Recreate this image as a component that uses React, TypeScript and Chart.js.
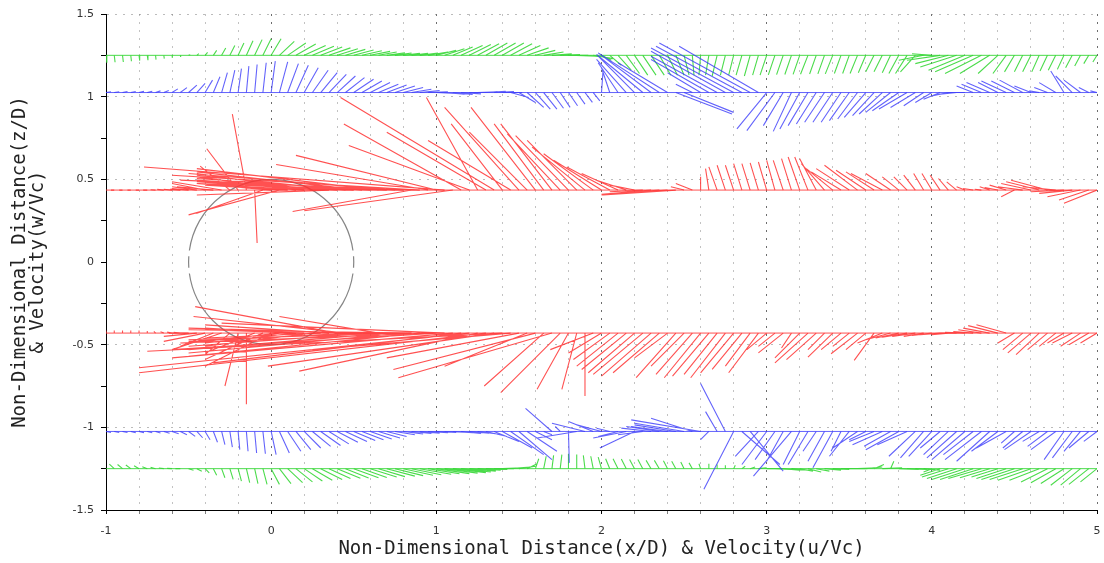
import React, { useEffect, useRef } from "react";
import { Chart, registerables } from "chart.js";

Chart.register(...registerables);

// Grid stations along x/D where velocity vectors are sampled
const gridX = [
  -1.0, -0.95, -0.9, -0.85, -0.8, -0.75, -0.7, -0.65, -0.6, -0.55,
  -0.5, -0.45, -0.4, -0.35, -0.3, -0.25, -0.2, -0.15, -0.1, -0.05,
  0.0, 0.05, 0.1, 0.15, 0.2, 0.25, 0.3, 0.35, 0.4, 0.45,
  0.5, 0.55, 0.6, 0.65, 0.7, 0.75, 0.8, 0.85, 0.9, 0.95,
  1.0, 1.05, 1.1, 1.15, 1.2, 1.25, 1.3, 1.35, 1.4, 1.45,
  1.5, 1.55, 1.6, 1.65, 1.7, 1.75, 1.8, 1.85, 1.9, 1.95,
  2.0, 2.05, 2.1, 2.15, 2.2, 2.25, 2.3, 2.35, 2.4, 2.45,
  2.5, 2.55, 2.6, 2.65, 2.7, 2.75, 2.8, 2.85, 2.9, 2.95,
  3.0, 3.05, 3.1, 3.15, 3.2, 3.25, 3.3, 3.35, 3.4, 3.45,
  3.5, 3.55, 3.6, 3.65, 3.7, 3.75, 3.8, 3.85, 3.9, 3.95,
  4.0, 4.05, 4.1, 4.15, 4.2, 4.25, 4.3, 4.35, 4.4, 4.45,
  4.5, 4.55, 4.6, 4.65, 4.7, 4.75, 4.8, 4.85, 4.9, 4.95,
  5.0,
];

// Measurement levels z/D
const greenTopLevel = 1.25;
const blueTopLevel = 1.025;
const redTopLevel = 0.435;
const redBottomLevel = -0.43;
const blueBottomLevel = -1.025;
const greenBottomLevel = -1.25;

// Cylinder
const cylinderRadius = 0.5;

// Upper green level: u/Vc, w/Vc
const greenTopU = [
  0.005, 0.005, 0.005, 0.004, 0.004, 0.004, 0.003, 0.003, 0.002, 0.002,
  0.01, 0.012, 0.015, 0.02, 0.025, 0.03, 0.035, 0.04, 0.045, 0.05,
  0.06, 0.09, 0.11, 0.12, 0.13, 0.13, 0.13, 0.13, 0.125, 0.12,
  0.12, 0.12, 0.12, 0.11, 0.11, 0.1, 0.1, 0.1, 0.11, 0.12,
  0.12, 0.12, 0.12, 0.13, 0.13, 0.13, 0.13, 0.13, 0.13, 0.13,
  0.13, 0.13, 0.12, 0.12, 0.12, 0.12, 0.12, 0.12, 0.12, 0.12,
  0.06, 0.07, 0.08, 0.08, 0.08, 0.08, 0.08, 0.07, 0.06, 0.05,
  0.03, 0.01, -0.01, -0.02, -0.03, -0.03, -0.03, -0.035, -0.035, -0.035,
  -0.04, -0.04, -0.04, -0.04, -0.04, -0.045, -0.04, -0.04, -0.045, -0.04,
  -0.04, -0.045, -0.045, -0.05, -0.05, -0.05, -0.06, -0.07, -0.09, -0.15,
  -0.12, -0.2, -0.2, -0.22, -0.22, -0.23, -0.22, -0.18, -0.12, -0.08,
  -0.06, -0.05, -0.05, -0.045, -0.045, -0.045, -0.04, -0.04, -0.035, -0.03,
  -0.025,
];
const greenTopW = [
  -0.045, -0.042, -0.04, -0.036, -0.032, -0.03, -0.026, -0.02, -0.015, -0.01,
  0.004, 0.01, 0.018, 0.03, 0.045, 0.06, 0.075, 0.088, 0.095, 0.1,
  0.1, 0.085, 0.075, 0.068, 0.06, 0.055, 0.05, 0.045, 0.04, 0.036,
  0.032, 0.028, 0.024, 0.02, 0.016, 0.014, 0.012, 0.012, 0.014, 0.02,
  0.03, 0.04, 0.05, 0.06, 0.065, 0.07, 0.075, 0.075, 0.075, 0.07,
  0.06, 0.045, 0.03, 0.02, 0.01, 0.005, 0.0, -0.005, -0.01, -0.02,
  -0.03, -0.06, -0.09, -0.11, -0.12, -0.12, -0.12, -0.12, -0.12, -0.12,
  -0.12, -0.12, -0.12, -0.12, -0.125, -0.12, -0.12, -0.12, -0.125, -0.12,
  -0.12, -0.118, -0.117, -0.116, -0.115, -0.114, -0.113, -0.112, -0.112, -0.11,
  -0.11, -0.11, -0.105, -0.1, -0.1, -0.105, -0.11, -0.11, -0.1, -0.03,
  0.01, -0.03, -0.05, -0.07, -0.09, -0.1, -0.11, -0.11, -0.11, -0.11,
  -0.1, -0.1, -0.1, -0.1, -0.095, -0.09, -0.085, -0.075, -0.065, -0.05,
  -0.04,
];

// Upper blue level
const blueTopU = [
  0.03, 0.03, 0.03, 0.03, 0.03, 0.03, 0.03, 0.03, 0.035, 0.04,
  0.05, 0.05, 0.045, 0.04, 0.035, 0.03, 0.02, 0.015, 0.015, 0.02,
  0.025, 0.05, 0.065, 0.075, 0.085, 0.095, 0.1, 0.105, 0.11, 0.115,
  0.12, 0.12, 0.12, 0.12, 0.12, 0.12, 0.12, 0.12, 0.12, 0.12,
  0.12, 0.12, 0.12, 0.12, 0.12, 0.12, 0.12, 0.12, 0.12, 0.11,
  0.1, 0.1, 0.09, 0.08, 0.07, 0.06, 0.055, 0.05, 0.045, 0.04,
  0.01, -0.05, -0.12, -0.18, -0.22, -0.28, -0.32, -0.37, -0.3, 0.34,
  0.3, -0.1, -0.2, -0.35, -0.4, -0.45, -0.5, -0.52, -0.55, -0.48,
  -0.18, -0.17, -0.12, -0.11, -0.12, -0.12, -0.12, -0.12, -0.12, -0.12,
  -0.12, -0.12, -0.13, -0.13, -0.14, -0.15, -0.16, -0.17, -0.15, -0.12,
  -0.1, -0.1, -0.1, -0.1, -0.1, -0.1, -0.12, -0.14, -0.12, -0.15,
  -0.14, -0.14, -0.1, -0.06, -0.08, -0.1, -0.08, -0.1, -0.1, -0.06,
  -0.04,
];
const blueTopW = [
  0.005, 0.005, 0.006, 0.006, 0.007, 0.008, 0.01, 0.012, 0.022, 0.03,
  0.045, 0.055, 0.075, 0.095, 0.12, 0.135, 0.145, 0.16, 0.17, 0.18,
  0.19, 0.185, 0.175, 0.165, 0.15, 0.135, 0.12, 0.11, 0.1, 0.09,
  0.08, 0.07, 0.06, 0.05, 0.045, 0.04, 0.03, 0.02, 0.012, 0.005,
  -0.005, -0.01, -0.012, -0.008, 0.0, 0.005, 0.008, 0.006, 0.0, -0.03,
  -0.06, -0.09, -0.1, -0.1, -0.095, -0.09, -0.08, -0.07, -0.06, -0.05,
  0.14, 0.15, 0.18, 0.2, 0.22, 0.23, 0.24, 0.24, 0.18, -0.13,
  -0.12, 0.05, 0.12, 0.2, 0.22, 0.25, 0.27, 0.28, 0.3, 0.28,
  -0.22, -0.23, -0.2, -0.235, -0.22, -0.2, -0.19, -0.18, -0.18, -0.18,
  -0.17, -0.16, -0.15, -0.14, -0.13, -0.12, -0.11, -0.1, -0.09, -0.08,
  -0.06, -0.04, -0.02, -0.01, 0.0, 0.04, 0.05, 0.06, 0.06, 0.07,
  0.07, 0.075, 0.04, 0.01, 0.03, 0.06, 0.13, 0.1, 0.075, 0.03,
  0.01,
];

// Upper red level (just above the cylinder)
const redTopU = [
  -0.02, -0.02, -0.02, -0.02, -0.02, -0.025, -0.03, -0.04, -0.05, -0.06,
  -0.1, -0.15, -0.2, -0.22, -0.3, -0.18, -0.19, -0.085, 0.015, -0.4,
  -0.45, -0.55, -0.5, -0.6, -0.65, -0.7, -0.75, -0.8, -0.85, -0.9,
  -0.95, -1.0, -1.05, -1.1, -1.15, -1.25, -1.35, -0.72, -1.5, -0.92,
  -0.85, -1.82, -0.9, -0.71, -0.73, -0.31, -0.6, -0.93, -0.31, -0.5,
  -0.45, -0.35, -0.39, -0.3, -0.31, -0.32, -0.32, -0.3, -0.32, -0.3,
  -0.29, -0.26, -0.22, -0.18, -0.15, -0.2, -0.3, -0.35, -0.4, -0.44,
  -0.08, -0.1, 0.0, -0.02, -0.05, -0.05, -0.05, -0.05, -0.05, -0.05,
  -0.05, -0.05, -0.06, -0.06, -0.07, -0.08, -0.1, -0.14, -0.16, -0.18,
  -0.2, -0.2, -0.18, -0.17, -0.19, -0.15, -0.1, -0.08, -0.07, -0.06,
  -0.06, -0.06, -0.06, -0.06, -0.05, -0.06, -0.04, -0.06, -0.08, -0.1,
  -0.08, -0.15, -0.18, -0.2, -0.22, -0.2, -0.2, -0.2, -0.2, -0.18,
  -0.2,
];
const redTopW = [
  0.0, 0.0, 0.0, 0.0, 0.0, 0.0, 0.002, 0.004, 0.005, 0.006,
  0.01, 0.02, 0.04, 0.02, 0.05, 0.145, 0.25, 0.46, -0.32, -0.14,
  0.04, -0.15, 0.03, 0.08, 0.04, 0.1, 0.05, -0.03, 0.06, 0.09,
  0.05, 0.11, 0.07, 0.13, 0.04, 0.1, 0.06, -0.13, 0.09, 0.155,
  0.21, 0.14, -0.125, 0.4, 0.27, 0.56, 0.35, 0.56, 0.4, 0.3,
  0.5, 0.35, 0.5, 0.4, 0.4, 0.34, 0.33, 0.3, 0.26, 0.22,
  0.18, 0.14, 0.1, 0.06, 0.03, -0.01, -0.025, -0.03, -0.03, -0.03,
  0.02, 0.04, 0.08, 0.13, 0.14, 0.15, 0.15, 0.16, 0.16, 0.165,
  0.17, 0.18, 0.18, 0.19, 0.2, 0.2, 0.19, 0.16, 0.13, 0.11,
  0.13, 0.15, 0.12, 0.11, 0.1, 0.1, 0.08, 0.08, 0.09, 0.1,
  0.1, 0.09, 0.07, 0.05, 0.02, 0.01, 0.005, 0.02, 0.015, 0.03,
  -0.04, 0.02, 0.04, 0.05, 0.06, 0.02, -0.01, -0.02, -0.04, -0.06,
  -0.08,
];

// Lower red level (just below the cylinder)
const redBottomU = [
  0.0, 0.0, 0.0, 0.0, 0.0, 0.0, -0.01, -0.02, -0.03, -0.04,
  -0.12, -0.2, -0.25, -0.2, -0.3, -0.15, -0.08, 0.0, -0.3, -0.35,
  -0.4, -0.45, -0.5, -0.55, -0.6, -0.65, -0.7, -0.75, -0.86, -0.92,
  -1.0, -1.05, -1.1, -0.6, -1.2, -1.25, -1.3, -1.35, -1.4, -1.5,
  -1.6, -1.35, -1.7, -1.5, -2.0, -1.08, -2.1, -1.37, -2.15, -1.2,
  -0.8, -0.5, -0.86, -0.36, -0.93, -0.36, -0.19, -0.09, 0.0, -0.26,
  -0.2, -0.22, -0.25, -0.27, -0.28, -0.3, -0.3, -0.28, -0.2, -0.24,
  -0.2, -0.22, -0.22, -0.22, -0.2, -0.21, -0.2, -0.18, -0.15, -0.18,
  -0.12, -0.1, -0.15, -0.06, -0.15, -0.2, -0.18, -0.1, -0.15, -0.12,
  -0.1, -0.16, -0.12, -0.12, -0.15, -0.15, -0.14, -0.15, -0.14, -0.12,
  -0.12, -0.12, -0.1, -0.1, -0.12, -0.12, -0.14, -0.16, -0.18, -0.18,
  -0.1, -0.12, -0.14, -0.14, -0.12, -0.1, -0.1, -0.12, -0.12, -0.12,
  -0.1,
];
const redBottomW = [
  0.015, 0.015, 0.015, 0.015, 0.015, 0.012, 0.01, 0.008, 0.006, 0.005,
  0.0, -0.02, -0.05, -0.08, -0.1, -0.13, -0.32, -0.43, -0.12, -0.16,
  -0.2, -0.05, 0.03, -0.06, 0.02, -0.08, -0.03, 0.05, 0.16, 0.1,
  -0.05, 0.03, -0.08, 0.1, -0.1, -0.04, -0.12, 0.02, -0.14, -0.06,
  -0.1, 0.06, -0.15, -0.18, -0.21, -0.23, -0.24, -0.2, -0.11, -0.1,
  -0.15, -0.2, -0.22, -0.32, -0.27, -0.36, -0.34, -0.34, -0.38, -0.1,
  -0.12, -0.16, -0.2, -0.22, -0.24, -0.25, -0.26, -0.24, -0.15, -0.27,
  -0.2, -0.25, -0.27, -0.26, -0.25, -0.27, -0.24, -0.22, -0.2, -0.24,
  -0.1, -0.08, -0.12, -0.09, -0.15, -0.18, -0.16, -0.1, -0.145, -0.1,
  -0.08, -0.125, -0.1, -0.165, -0.06, -0.04, -0.03, -0.025, -0.02, -0.02,
  -0.015, -0.01, -0.01, 0.0, 0.005, 0.01, 0.02, 0.03, 0.045, 0.05,
  -0.06, -0.1, -0.12, -0.13, -0.1, -0.08, -0.06, -0.06, -0.08, -0.07,
  -0.06,
];

// Lower blue level
const blueBottomU = [
  0.03, 0.03, 0.03, 0.03, 0.03, 0.03, 0.03, 0.035, 0.04, 0.04,
  0.04, 0.035, 0.03, 0.025, 0.02, 0.015, 0.01, 0.01, 0.012, 0.015,
  0.03, 0.06, 0.08, 0.09, 0.1, 0.11, 0.12, 0.12, 0.125, 0.13,
  0.13, 0.13, 0.13, 0.13, 0.12, 0.12, 0.12, 0.12, 0.12, 0.12,
  0.12, 0.12, 0.12, 0.12, 0.12, 0.12, 0.13, 0.15, 0.18, 0.2,
  0.2, 0.18, 0.1, 0.05, -0.16, -0.03, 0.005, -0.24, -0.2, -0.15,
  -0.15, -0.08, -0.12, -0.2, -0.21, -0.15, -0.18, -0.2, -0.22, -0.25,
  -0.3, -0.25, -0.42, -0.05, -0.07, -0.15, -0.18, 0.23, 0.2, -0.14,
  -0.15, -0.12, -0.1, -0.23, -0.1, -0.12, -0.08, -0.1, -0.12, -0.06,
  -0.12, -0.15, -0.1, -0.15, -0.18, -0.16, -0.2, -0.18, -0.16, -0.14,
  -0.14, -0.12, -0.15, -0.18, -0.2, -0.18, -0.22, -0.2, -0.16, -0.18,
  -0.08, -0.12, -0.16, -0.1, -0.12, -0.15, -0.12, -0.12, -0.1, -0.12,
  -0.08,
];
const blueBottomW = [
  -0.006, -0.006, -0.006, -0.007, -0.007, -0.008, -0.009, -0.011, -0.014, -0.02,
  -0.03, -0.038, -0.05, -0.065, -0.08, -0.095, -0.11, -0.12, -0.13, -0.135,
  -0.14, -0.13, -0.12, -0.11, -0.1, -0.09, -0.085, -0.075, -0.065, -0.06,
  -0.055, -0.05, -0.045, -0.04, -0.03, -0.02, -0.015, -0.012, -0.01, -0.008,
  -0.006, -0.005, -0.008, -0.012, -0.01, -0.015, -0.03, -0.06, -0.1, -0.14,
  -0.17, -0.12, -0.05, -0.02, 0.14, 0.03, -0.19, -0.04, 0.05, 0.06,
  0.04, 0.02, -0.03, -0.04, -0.1, -0.02, 0.02, 0.03, 0.03, 0.04,
  0.05, 0.08, 0.07, -0.05, 0.12, 0.29, -0.35, -0.2, -0.24, -0.15,
  -0.2, -0.17, -0.18, -0.27, -0.2, -0.2, -0.12, -0.18, -0.22, -0.12,
  -0.15, -0.1, -0.05, -0.06, -0.08, -0.09, -0.11, -0.08, -0.15, -0.16,
  -0.15, -0.1, -0.14, -0.16, -0.17, -0.14, -0.17, -0.18, -0.12, -0.1,
  -0.07, -0.1, -0.11, -0.06, -0.09, -0.11, -0.17, -0.16, -0.12, -0.1,
  -0.06,
];

// Lower green level
const greenBottomU = [
  -0.03, -0.03, -0.03, -0.03, -0.03, -0.03, -0.03, -0.03, -0.03, -0.03,
  0.03, 0.03, 0.025, 0.02, 0.02, 0.02, 0.02, 0.02, 0.02, 0.025,
  0.05, 0.07, 0.09, 0.1, 0.11, 0.12, 0.13, 0.13, 0.14, 0.14,
  0.15, 0.15, 0.16, 0.16, 0.17, 0.17, 0.18, 0.18, 0.19, 0.19,
  0.2, 0.2, 0.2, 0.18, 0.16, 0.14, 0.13, 0.12, 0.12, 0.12,
  0.1, 0.06, 0.02, 0.015, 0.01, 0.01, 0.0, 0.0, -0.01, -0.015,
  -0.02, -0.025, -0.03, -0.03, -0.03, -0.03, -0.03, -0.03, -0.025, -0.025,
  -0.02, -0.02, -0.01, 0.0, 0.0, 0.0, 0.01, 0.02, 0.03, 0.05,
  0.1, 0.1, 0.1, 0.1, 0.08, 0.08, 0.08, 0.1, 0.1, 0.1,
  0.1, 0.12, 0.1, 0.06, 0.12, 0.02, 0.12, 0.12, 0.12, 0.1,
  -0.05, -0.12, -0.16, -0.18, -0.2, -0.2, -0.2, -0.18, -0.16, -0.18,
  -0.2, -0.2, -0.2, -0.18, -0.16, -0.15, -0.14, -0.13, -0.12, -0.12,
  -0.1,
];
const greenBottomW = [
  0.03, 0.028, 0.025, 0.022, 0.018, 0.012, 0.008, 0.004, 0.002, 0.0,
  -0.01, -0.015, -0.025, -0.04, -0.055, -0.065, -0.075, -0.085, -0.09, -0.095,
  -0.095, -0.09, -0.085, -0.08, -0.075, -0.07, -0.065, -0.06, -0.058, -0.056,
  -0.055, -0.053, -0.05, -0.048, -0.045, -0.042, -0.04, -0.037, -0.034, -0.031,
  -0.03, -0.027, -0.024, -0.02, -0.015, -0.01, -0.005, 0.0, 0.005, 0.01,
  0.015, 0.03, 0.06, 0.075, 0.08, 0.085, 0.09, 0.085, 0.08, 0.075,
  0.07, 0.06, 0.06, 0.058, 0.055, 0.055, 0.05, 0.05, 0.048, 0.045,
  0.04, 0.035, 0.03, 0.03, 0.025, 0.02, 0.02, 0.015, 0.01, 0.005,
  0.0, -0.005, -0.01, -0.01, -0.015, -0.02, -0.015, -0.01, -0.005, 0.0,
  0.0, 0.005, 0.01, 0.025, 0.005, 0.045, -0.005, -0.005, -0.005, -0.01,
  -0.02, -0.04, -0.05, -0.06, -0.065, -0.065, -0.06, -0.055, -0.05, -0.06,
  -0.065, -0.065, -0.07, -0.07, -0.08, -0.085, -0.09, -0.1, -0.1, -0.095,
  -0.08,
];

const RED = "rgba(255, 50, 50, 0.85)";
const BLUE = "rgba(60, 60, 250, 0.8)";
const GREEN = "rgba(55, 215, 55, 0.9)";

type Pt = { x: number; y: number | null };

// Each vector is a segment from its station on the level line; null breaks the path
function vectorSegments(level: number, u: number[], w: number[]): Pt[] {
  const pts: Pt[] = [];
  const n = Math.min(gridX.length, u.length, w.length);
  for (let i = 0; i < n; i++) {
    pts.push({ x: gridX[i], y: level });
    pts.push({ x: gridX[i] + u[i], y: level + w[i] });
    pts.push({ x: gridX[i], y: null });
  }
  return pts;
}

function levelLine(level: number): Pt[] {
  return [
    { x: gridX[0], y: level },
    { x: gridX[gridX.length - 1], y: level },
  ];
}

const isInt = (v: number) => Math.abs(v - Math.round(v)) < 1e-6;
const isHalf = (v: number) => Math.abs(v * 2 - Math.round(v * 2)) < 1e-6;

// Dashed outline of the cylinder section drawn in data coordinates
const cylinderPlugin = {
  id: "cylinderOutline",
  beforeDatasetsDraw(chart: any) {
    const { ctx, scales } = chart;
    const xs = scales.x;
    const ys = scales.y;
    const cx = xs.getPixelForValue(0);
    const cy = ys.getPixelForValue(0);
    const rx = xs.getPixelForValue(cylinderRadius) - cx;
    const ry = cy - ys.getPixelForValue(cylinderRadius);
    const deg = Math.PI / 180;
    const arcs: [number, number][] = [
      [8 * deg, 172 * deg],
      [176 * deg, 184 * deg],
      [188 * deg, 352 * deg],
      [-4 * deg, 4 * deg],
    ];
    ctx.save();
    ctx.strokeStyle = "rgba(120,120,120,0.9)";
    ctx.lineWidth = 1.2;
    for (const [a0, a1] of arcs) {
      ctx.beginPath();
      ctx.ellipse(cx, cy, rx, ry, 0, a0, a1);
      ctx.stroke();
    }
    ctx.restore();
  },
};

export default function App() {
  const canvasRef = useRef<HTMLCanvasElement | null>(null);

  useEffect(() => {
    if (!canvasRef.current) return;
    const seg = (label: string, data: Pt[], color: string, width: number) => ({
      label,
      data,
      borderColor: color,
      borderWidth: width,
      pointRadius: 0,
      pointHoverRadius: 0,
      spanGaps: false,
      fill: false,
      tension: 0,
    });

    const chart = new Chart(canvasRef.current, {
      type: "line",
      data: {
        datasets: [
          seg("redTop", vectorSegments(redTopLevel, redTopU, redTopW), RED, 1.1),
          seg("redBottom", vectorSegments(redBottomLevel, redBottomU, redBottomW), RED, 1.1),
          seg("redTopLine", levelLine(redTopLevel), RED, 1),
          seg("redBottomLine", levelLine(redBottomLevel), RED, 1),
          seg("blueTop", vectorSegments(blueTopLevel, blueTopU, blueTopW), BLUE, 1.1),
          seg("blueBottom", vectorSegments(blueBottomLevel, blueBottomU, blueBottomW), BLUE, 1.1),
          seg("blueTopLine", levelLine(blueTopLevel), BLUE, 1),
          seg("blueBottomLine", levelLine(blueBottomLevel), BLUE, 1),
          seg("greenTop", vectorSegments(greenTopLevel, greenTopU, greenTopW), GREEN, 1.1),
          seg("greenBottom", vectorSegments(greenBottomLevel, greenBottomU, greenBottomW), GREEN, 1.1),
          seg("greenTopLine", levelLine(greenTopLevel), GREEN, 1),
          seg("greenBottomLine", levelLine(greenBottomLevel), GREEN, 1),
        ],
      },
      options: {
        animation: false,
        responsive: true,
        maintainAspectRatio: false,
        events: [],
        layout: { padding: { left: 0, right: 7, top: 14, bottom: 0 } },
        plugins: {
          legend: { display: false },
          tooltip: { enabled: false },
        },
        scales: {
          x: {
            type: "linear",
            min: -1,
            max: 5,
            afterFit: (scale: any) => {
              scale.height = 53;
              scale.paddingLeft = 0;
              scale.paddingRight = 0;
            },
            ticks: {
              stepSize: 0.2,
              autoSkip: false,
              maxRotation: 0,
              padding: 11,
              color: "#333",
              font: { family: "DejaVu Sans", size: 11 },
              callback: (v: any) => (isInt(Number(v)) ? String(Math.round(Number(v))) : ""),
            },
            grid: {
              color: (c: any) =>
                isInt(c.tick?.value ?? 0.5) ? "rgba(60,60,60,0.75)" : "rgba(120,120,120,0.45)",
              lineWidth: 1,
              drawTicks: true,
              tickLength: 4,
              tickColor: (c: any) => (isInt(c.tick?.value ?? 0.5) ? "#000" : "rgba(0,0,0,0.5)"),
            },
            border: { display: true, color: "#000", width: 1, dash: [2, 6] },
            title: {
              display: true,
              text: "Non-Dimensional Distance(x/D) & Velocity(u/Vc)",
              color: "#222",
              font: { family: "DejaVu Sans Mono", size: 19, lineHeight: 1.2 },
              padding: { top: 0, bottom: 3 },
            },
          },
          y: {
            type: "linear",
            min: -1.5,
            max: 1.5,
            afterFit: (scale: any) => {
              scale.width = 106;
              scale.paddingTop = 0;
              scale.paddingBottom = 0;
            },
            ticks: {
              stepSize: 0.25,
              autoSkip: false,
              padding: 7,
              color: "#333",
              font: { family: "DejaVu Sans", size: 11 },
              callback: (v: any) => {
                const n = Number(v);
                if (!isHalf(n)) return "";
                return String(Math.round(n * 10) / 10);
              },
            },
            grid: {
              color: (c: any) => {
                const v = c.tick?.value ?? 0;
                return isHalf(v) && Math.abs(v) > 1e-6 ? "rgba(120,120,120,0.5)" : "rgba(0,0,0,0)";
              },
              lineWidth: 1,
              drawTicks: true,
              tickLength: 5,
              tickColor: "#000",
            },
            border: { display: true, color: "#000", width: 1, dash: [2, 6] },
            title: {
              display: true,
              text: ["Non-Dimensional Distance(z/D)", "& Velocity(w/Vc)"],
              color: "#222",
              font: { family: "DejaVu Sans Mono", size: 19, lineHeight: 0.95 },
              padding: { top: 11, bottom: 0 },
            },
          },
        },
      },
      plugins: [cylinderPlugin],
    } as any);

    return () => chart.destroy();
  }, []);

  return (
    <div style={{ position: "absolute", left: 0, top: 0, width: 1104, height: 563, background: "#fff" }}>
      <canvas ref={canvasRef} />
    </div>
  );
}
